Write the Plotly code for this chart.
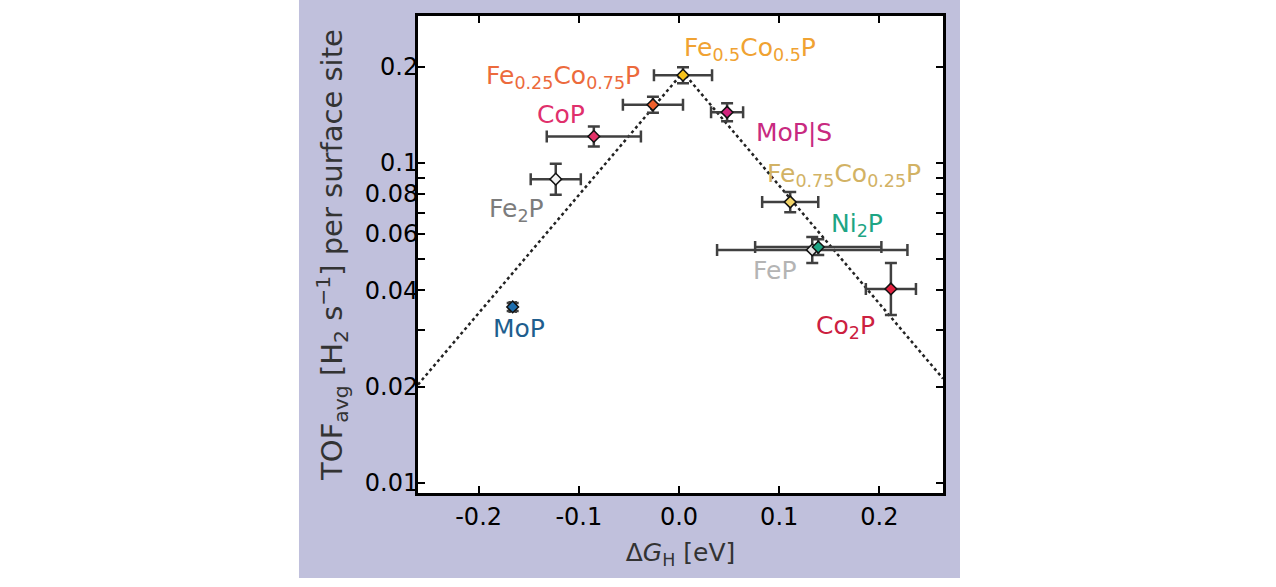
import numpy as np
import plotly.graph_objects as go

# catalysts
names = ["Fe<sub>0.5</sub>Co<sub>0.5</sub>P", "Fe<sub>0.25</sub>Co<sub>0.75</sub>P", "CoP",
         "Fe<sub>2</sub>P", "MoP|S", "Fe<sub>0.75</sub>Co<sub>0.25</sub>P",
         "FeP", "Ni<sub>2</sub>P", "Co<sub>2</sub>P", "MoP"]
dG = [0.004, -0.026, -0.085, -0.123, 0.048, 0.111, 0.133, 0.139, 0.2115, -0.166]
dG_err = [0.029, 0.030, 0.047, 0.025, 0.016, 0.028, 0.095, 0.063, 0.025, 0.003]
tof = [0.188, 0.152, 0.121, 0.089, 0.144, 0.0755, 0.0535, 0.0546, 0.0404, 0.0355]
tof_err_plus = [0.0112, 0.0090, 0.0090, 0.0105, 0.0097, 0.0056, 0.0052, 0.0032, 0.0083, 0.0010]
tof_err_minus = [0.0105, 0.0085, 0.0084, 0.0094, 0.0090, 0.0053, 0.0048, 0.0030, 0.0069, 0.0010]

# dotted volcano guide line
volcano_x = [-0.2605, 0.004, 0.2635]
volcano_y = [0.0203, 0.192, 0.0212]

ytick_vals = [0.01, 0.02, 0.04, 0.06, 0.08, 0.1, 0.2]
ytick_text = ["0.01", "0.02", "0.04", "0.06", "0.08", "0.1", "0.2"]
yminor_vals = [0.03, 0.05, 0.07, 0.09]
xtick_vals = [-0.2, -0.1, 0.0, 0.1, 0.2]
xtick_text = ["-0.2", "-0.1", "0.0", "0.1", "0.2"]

marker_colors = ["#f6c21c", "#f0602c", "#e23268", "#f2f2f2", "#d2247e",
                 "#f2d468", "#e8e8e8", "#1ea584", "#e2203e", "#1e6eae"]
label_colors = ["#f0a232", "#ec6a3c", "#e0306c", "#7c7c7c", "#c82a80",
                "#d2b264", "#b4b4b4", "#1ea584", "#cc2040", "#1e5e8e"]
# label offsets from the marker (px, yshift positive = up)
label_dx = [67, -90, -33, -39, 67, 54, -38, 39, -45, 6]
label_dy = [26, 28, 22, -31, -20, 27, -21, 22, -38, -22]

FONT = "DejaVu Sans"

fig = go.Figure()

fig.add_trace(go.Scatter(
    x=volcano_x, y=volcano_y, mode="lines",
    line=dict(color="#222222", width=2.5, dash="dot"),
    hoverinfo="skip", showlegend=False,
))

fig.add_trace(go.Scatter(
    x=dG, y=tof, mode="markers",
    marker=dict(symbol="diamond", size=9, color=marker_colors,
                line=dict(color="#111111", width=1.5)),
    error_x=dict(type="data", array=dG_err, color="#404040", thickness=2.5, width=6),
    error_y=dict(type="data", array=tof_err_plus, arrayminus=tof_err_minus,
                 color="#404040", thickness=2.5, width=6),
    text=names, hovertemplate="%{text}<br>%{x}, %{y}<extra></extra>",
    showlegend=False,
))

for name, x, y, c, dx, dy in zip(names, dG, tof, label_colors, label_dx, label_dy):
    fig.add_annotation(x=x, y=np.log10(y), text=name, showarrow=False,
                       xshift=dx, yshift=dy,
                       font=dict(family=FONT, size=25, color=c))

axis_common = dict(
    showline=True, linecolor="black", linewidth=3, mirror="ticks",
    ticks="inside", ticklen=7, tickwidth=2, tickcolor="black",
    showgrid=False, zeroline=False,
    tickfont=dict(family=FONT, size=24, color="black"),
)

fig.update_xaxes(
    range=[-0.2605, 0.2635], tickvals=xtick_vals, ticktext=xtick_text,
    title=dict(text="Δ<i>G</i><sub>H</sub> [eV]", standoff=14,
               font=dict(family=FONT, size=25, color="#333333")),
    **axis_common,
)
fig.update_yaxes(
    type="log", range=[-2.031, -0.541], tickvals=ytick_vals, ticktext=ytick_text,
    minor=dict(tickvals=yminor_vals, ticks="inside", ticklen=7, tickwidth=2,
               tickcolor="black", showgrid=False),
    ticklabelstandoff=-8,
    title=dict(text="TOF<sub>avg</sub> [H<sub>2</sub> s<sup>−1</sup>] per surface site",
               standoff=14, font=dict(family=FONT, size=29, color="#333333")),
    **axis_common,
)

# lavender panel behind the axes, white plot area on top of it
fig.add_shape(type="rect", xref="paper", yref="paper", x0=-0.2267, x1=1.0324,
              y0=-0.178, y1=1.04, fillcolor="#c0c0dc", line_width=0, layer="below")
fig.add_shape(type="rect", xref="paper", yref="paper", x0=0, x1=1, y0=0, y1=1,
              fillcolor="white", line_width=0, layer="below")

fig.update_layout(
    width=1276, height=587,
    margin=dict(l=418, r=333, t=16, b=94),
    paper_bgcolor="white", plot_bgcolor="white",
    font=dict(family=FONT),
)

fig.write_html("out.html", config={"displayModeBar": False},
               post_script="document.body.style.margin='0';")
